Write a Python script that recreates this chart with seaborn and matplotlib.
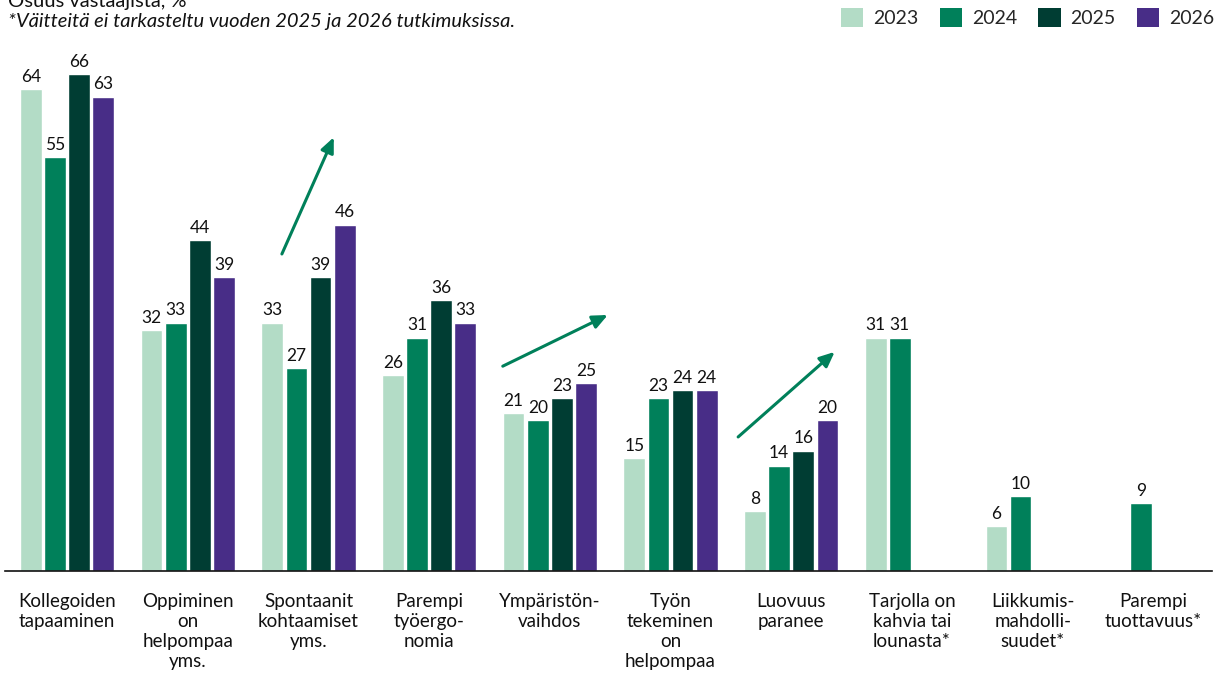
import numpy as np
import pandas as pd
import matplotlib
matplotlib.use("Agg")
import matplotlib.pyplot as plt
import seaborn as sns
from matplotlib.patches import Patch

categories = ["Kollegoiden\ntapaaminen", "Oppiminen\non\nhelpompaa\nyms.",
              "Spontaanit\nkohtaamiset\nyms.", "Parempi\ntyöergo-\nnomia",
              "Ympäristön-\nvaihdos", "Työn\ntekeminen\non\nhelpompaa",
              "Luovuus\nparanee", "Tarjolla on\nkahvia tai\nlounasta*",
              "Liikkumis-\nmahdolli-\nsuudet*", "Parempi\ntuottavuus*"]
years = ["2023", "2024", "2025", "2026"]
v2023 = [64, 32, 33, 26, 21, 15, 8, 31, 6, np.nan]
v2024 = [55, 33, 27, 31, 20, 23, 14, 31, 10, 9]
v2025 = [66, 44, 39, 36, 23, 24, 16, np.nan, np.nan, np.nan]
v2026 = [63, 39, 46, 33, 25, 24, 20, np.nan, np.nan, np.nan]
colors = ["#b3dcc6", "#00805a", "#003d33", "#482d87"]

rows = []
for yr, vals in zip(years, [v2023, v2024, v2025, v2026]):
    for c, v in zip(categories, vals):
        rows.append({"cat": c, "year": yr, "val": v})
df = pd.DataFrame(rows)

sns.set_style("white")
plt.rcParams["font.family"] = ["Lato", "DejaVu Sans"]

fig = plt.figure(figsize=(12.16, 6.77), dpi=100)
ax = fig.add_axes([5/1216, 1 - 571/677, 1207/1216, (571 - 40)/677])

sns.barplot(data=df, x="cat", y="val", hue="year", hue_order=years,
            order=categories, palette=colors, width=0.8, gap=0.1,
            saturation=1, ax=ax, legend=False, errorbar=None)

for cont in ax.containers:
    labels = ["" if (v is None or np.isnan(v)) else f"{v:.0f}" for v in cont.datavalues]
    ax.bar_label(cont, labels=labels, padding=3, fontsize=12.5, color="#111111")

ax.set_xlim(-0.514, 9.486)
ax.set_ylim(0, (571 - 40) / 7.53)
ax.set_xlabel("")
ax.set_ylabel("")
ax.set_yticks([])
ax.tick_params(axis="x", length=0, pad=16, labelsize=13.5)
for lab in ax.get_xticklabels():
    lab.set_verticalalignment("top")
    lab.set_linespacing(1.2)
    lab.set_color("#111111")
for s in ["top", "right", "left"]:
    ax.spines[s].set_visible(False)
ax.spines["bottom"].set_color("#111111")
ax.spines["bottom"].set_linewidth(1.2)

arrow_col = "#00805a"
arrows = [((1.78, 42.1), (2.21, 57.6)),
          ((3.61, 27.2), (4.48, 34.0)),
          ((5.56, 17.8), (6.36, 29.1))]
for (x0, y0), (x1, y1) in arrows:
    ax.annotate("", xy=(x1, y1), xytext=(x0, y0),
                arrowprops=dict(arrowstyle="-|>,head_length=0.9,head_width=0.4",
                                color=arrow_col, lw=2.2, shrinkA=0, shrinkB=0))

fig.text(8/1216, 1 - 1/677, "Osuus vastaajista, %", fontsize=14.5, color="#111111",
         va="center", ha="left")
fig.text(8/1216, 1 - 21/677, "*Väitteitä ei tarkasteltu vuoden 2025 ja 2026 tutkimuksissa.",
         fontsize=14.5, style="italic", color="#111111", va="center", ha="left")

handles = [Patch(facecolor=c, edgecolor="none") for c in colors]
fig.legend(handles, years, loc="upper right", bbox_to_anchor=(1226/1216, 1 + 4/677),
           ncol=4, frameon=False, fontsize=14, handlelength=1.15, handleheight=1.15,
           handletextpad=0.5, columnspacing=1.1, borderaxespad=0.2)

fig.savefig("out.png", dpi=100)
